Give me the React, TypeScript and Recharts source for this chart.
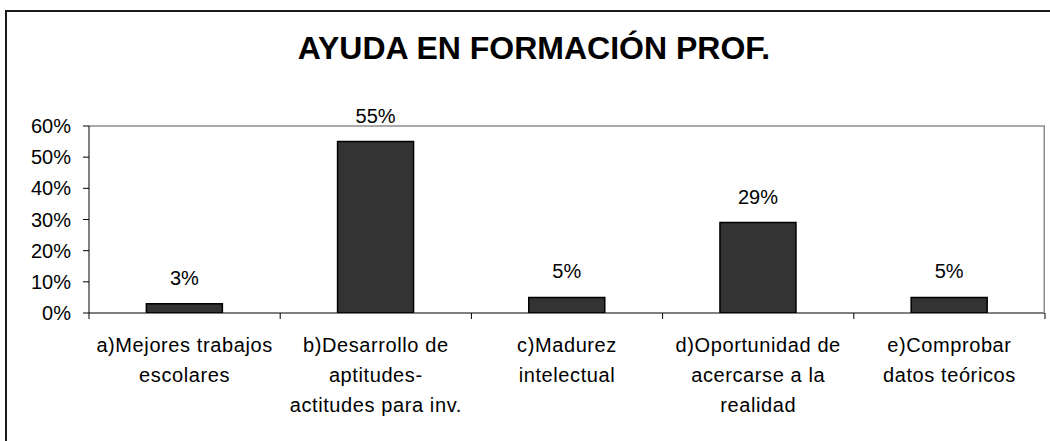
import { BarChart, Bar, XAxis, YAxis, LabelList, CartesianGrid } from 'recharts';

const categories = [
  'a)Mejores trabajos\nescolares',
  'b)Desarrollo de\naptitudes-\nactitudes para inv.',
  'c)Madurez\nintelectual',
  'd)Oportunidad de\nacercarse a la\nrealidad',
  'e)Comprobar\ndatos teóricos',
];
const values = [0.03, 0.55, 0.05, 0.29, 0.05];
const yTicks = [0, 0.1, 0.2, 0.3, 0.4, 0.5, 0.6];

const data = categories.map((name, i) => ({ name, value: values[i] }));

const FONT = '"Liberation Sans", Arial, sans-serif';
const pct = (v: number) => `${Math.round(v * 100)}%`;

// category labels plus Excel-style tick marks on the category boundaries
const CategoryTick = (props: any) => {
  const { x, y, payload, width, visibleTicksCount, index } = props;
  const lines = String(payload.value).split('\n');
  const band = width / visibleTicksCount;
  const axisY = y - 8;
  const left = x - band / 2;
  const right = x + band / 2;
  const last = index === visibleTicksCount - 1;
  return (
    <g>
      <line x1={left} x2={left} y1={axisY} y2={axisY + 6} stroke='#000' />
      {last && <line x1={right} x2={right} y1={axisY} y2={axisY + 6} stroke='#000' />}
      {/* grey right edge of the plot frame */}
      {last && (
        <line
          x1={right - 0.75}
          x2={right - 0.75}
          y1={axisY}
          y2={axisY - props.plotHeight}
          stroke='#8c8c8c'
          strokeWidth={1.5}
        />
      )}
      <text
        x={x}
        y={y}
        textAnchor='middle'
        fontSize={20}
        fontFamily={FONT}
        letterSpacing={0.6}
        fill='#000'
      >
        {lines.map((line, i) => (
          <tspan key={i} x={x} dy={i === 0 ? 31 : 30}>
            {line}
          </tspan>
        ))}
      </text>
    </g>
  );
};

const App = () => {
  const chartHeight = 441;
  const margin = { top: 126, right: 5, bottom: 28, left: 0 };
  const xAxisHeight = 100;
  const plotHeight = chartHeight - margin.top - margin.bottom - xAxisHeight;
  return (
    <div
      style={{
        position: 'absolute',
        left: 0,
        top: 0,
        width: 1050,
        height: 441,
        overflow: 'hidden',
        background: '#fff',
      }}
    >
      <div
        style={{
          position: 'absolute',
          left: 5,
          top: 10,
          width: 1100,
          height: 500,
          borderLeft: '2px solid #1a1a1a',
          borderTop: '2px solid #1a1a1a',
        }}
      />
      <div
        style={{
          position: 'absolute',
          left: 34,
          top: 28,
          width: 1000,
          textAlign: 'center',
          fontFamily: FONT,
          fontWeight: 'bold',
          fontSize: 32,
          lineHeight: '40px',
          color: '#000',
        }}
      >
        AYUDA EN FORMACIÓN PROF.
      </div>
      <div style={{ position: 'absolute', left: 0, top: 0 }}>
        <BarChart
          width={1050}
          height={chartHeight}
          data={data}
          margin={margin}
          barCategoryGap='30%'
        >
          <CartesianGrid
            stroke='#8c8c8c'
            strokeWidth={1.5}
            vertical={false}
            horizontalCoordinatesGenerator={({ offset }: any) => [offset.top]}
          />
          <XAxis
            dataKey='name'
            type='category'
            height={xAxisHeight}
            axisLine={{ stroke: '#000' }}
            tickLine={false}
            interval={0}
            tick={<CategoryTick plotHeight={plotHeight} />}
          />
          <YAxis
            domain={[0, 0.6]}
            ticks={yTicks}
            tickFormatter={pct}
            width={89}
            tickSize={6}
            tickMargin={12}
            axisLine={{ stroke: '#000' }}
            tickLine={{ stroke: '#000' }}
            tick={{ fontSize: 20, fill: '#000', fontFamily: FONT }}
            allowDataOverflow
          />
          <Bar
            dataKey='value'
            fill='#333333'
            stroke='#000'
            strokeWidth={1.5}
            isAnimationActive={false}
          >
            <LabelList
              dataKey='value'
              position='top'
              offset={19}
              formatter={(v: any) => pct(Number(v))}
              style={{ fontSize: 20, fill: '#000', fontFamily: FONT }}
            />
          </Bar>
        </BarChart>
      </div>
    </div>
  );
};

export default App;
